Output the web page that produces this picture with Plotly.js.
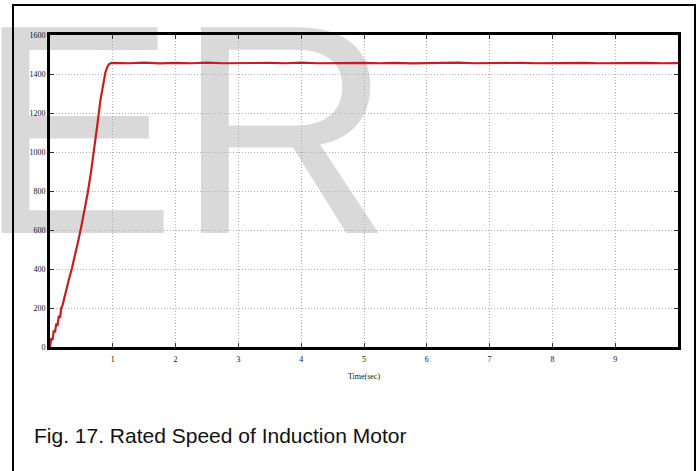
<!DOCTYPE html>
<html>
<head>
<meta charset="utf-8">
<script src="https://cdn.plot.ly/plotly-3.0.1.min.js"></script>
<style>
html,body{margin:0;padding:0;background:#fff;}
#chart{width:699px;height:471px;}
</style>
</head>
<body>
<div id="chart"></div>
<script>
// Time (s)
const timeSec = [0, 0.02, 0.04, 0.06, 0.08, 0.10, 0.12, 0.14, 0.16, 0.18, 0.20, 0.23, 0.26, 0.30, 0.35,
  0.40, 0.45, 0.50, 0.55, 0.60, 0.65, 0.70, 0.75, 0.80, 0.85, 0.88, 0.91, 0.94, 0.97, 1.00,
  1.25, 1.5, 1.75, 2.0, 2.25, 2.5, 2.75, 3.0, 3.25, 3.5, 3.75, 4.0, 4.25, 4.5, 4.75, 5.0,
  5.25, 5.5, 5.75, 6.0, 6.25, 6.5, 6.75, 7.0, 7.25, 7.5, 7.75, 8.0, 8.25, 8.5, 8.75, 9.0,
  9.25, 9.5, 9.75, 10.0];
// Rotor speed (rpm)
const speedRpm = [0, 45, 35, 85, 75, 120, 110, 160, 150, 200, 215, 250, 295, 345, 405,
  470, 545, 620, 700, 790, 890, 1000, 1130, 1260, 1360, 1405, 1435, 1450, 1456, 1457,
  1455, 1458, 1454, 1457, 1455, 1458, 1455, 1456, 1454, 1457, 1455, 1458, 1455, 1456, 1454, 1457,
  1455, 1457, 1454, 1456, 1455, 1458, 1455, 1456, 1454, 1457, 1455, 1456, 1454, 1457, 1455, 1456,
  1454, 1457, 1455, 1456];
const xTicks = [1, 2, 3, 4, 5, 6, 7, 8, 9];
const yTicks = [0, 200, 400, 600, 800, 1000, 1200, 1400, 1600];
const xTitle = 'Time(sec)';
const caption = 'Fig. 17. Rated Speed of Induction Motor';
const watermark = 'ER';

const W = 699, H = 471;
const M = {l: 50, r: 21, t: 35, b: 124};
const pw = W - M.l - M.r, ph = H - M.t - M.b;
const px = v => (v - M.l) / pw;
const py = v => (H - M.b - v) / ph;

const tickFont = {family: 'Liberation Serif, Times New Roman, serif', size: 8, color: '#111'};

const trace = {
  x: timeSec, y: speedRpm, type: 'scatter', mode: 'lines',
  line: {color: '#c41e1e', width: 2.2}, hoverinfo: 'skip'
};

const gridStyle = {showgrid: true, gridcolor: '#b0b0b0', griddash: '1px,2px', gridwidth: 1};

const layout = {
  width: W, height: H,
  margin: M,
  paper_bgcolor: '#fff',
  plot_bgcolor: 'rgba(0,0,0,0)',
  showlegend: false,
  xaxis: Object.assign({
    range: [0, 10], tickvals: xTicks, ticktext: xTicks.map(String),
    zeroline: false, showline: true, linecolor: '#000', linewidth: 3, mirror: 'ticks',
    ticks: 'inside', ticklen: 4, tickcolor: '#333', tickwidth: 1,
    tickfont: tickFont, ticklabelstandoff: 2,
    title: {text: xTitle, font: tickFont, standoff: 11}
  }, gridStyle),
  yaxis: Object.assign({
    range: [0, 1600], tickvals: yTicks, ticktext: yTicks.map(String),
    zeroline: false, showline: true, linecolor: '#000', linewidth: 3, mirror: 'ticks',
    ticks: 'inside', ticklen: 4, tickcolor: '#333', tickwidth: 1,
    tickfont: tickFont
  }, gridStyle),
  shapes: [
    {
      type: 'rect', xref: 'paper', yref: 'paper', layer: 'below',
      x0: px(-26), x1: px(400), y0: py(268), y1: py(0),
      line: {width: 0}, fillcolor: 'rgba(0,0,0,0)',
      label: {text: watermark, textposition: 'bottom left', padding: 0,
        font: {family: 'Liberation Sans, Arial, sans-serif', size: 299, color: '#d9d9d9'}}
    },
    {
      type: 'rect', xref: 'paper', yref: 'paper', layer: 'above',
      x0: px(13), x1: px(695), y0: py(478), y1: py(5),
      line: {color: '#000', width: 2}, fillcolor: 'rgba(0,0,0,0)'
    }
  ],
  annotations: [
    {
      text: caption, xref: 'paper', yref: 'paper', x: px(32), y: py(436),
      xanchor: 'left', yanchor: 'middle', showarrow: false,
      font: {family: 'Liberation Sans, Arial, sans-serif', size: 21, color: '#111'}
    }
  ]
};

Plotly.newPlot('chart', [trace], layout, {staticPlot: true, displayModeBar: false});
</script>
</body>
</html>
